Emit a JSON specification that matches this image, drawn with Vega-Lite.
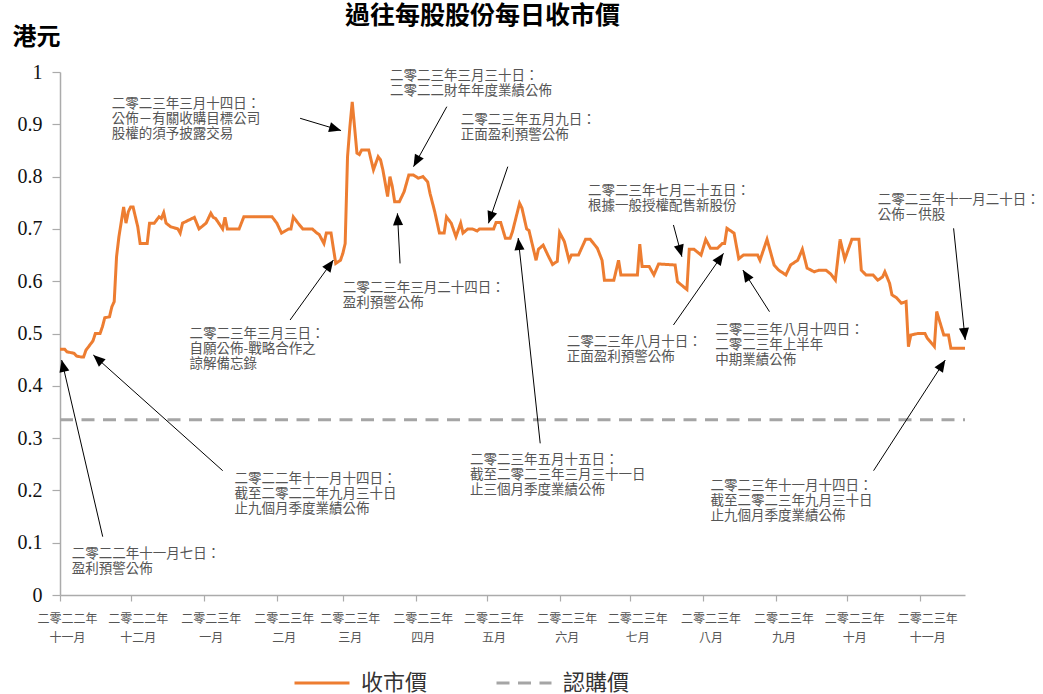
{
  "$schema": "https://vega.github.io/schema/vega-lite/v6.json",
  "autosize": {"type": "none"},
  "width": 905,
  "height": 523,
  "padding": {"left": 60, "top": 72, "right": 78, "bottom": 99},
  "background": "white",
  "config": {
    "view": {"stroke": null},
    "font": "Noto Sans CJK TC"
  },
  "title": {
    "text": "過往每股股份每日收市價",
    "font": "Noto Sans CJK TC",
    "fontSize": 25,
    "fontWeight": "bold",
    "color": "#000000",
    "anchor": "middle",
    "frame": "group",
    "dx": -30,
    "offset": -24,
    "baseline": "alphabetic"
  },
  "datasets": {
    "price": [
      {"d": "2022/11/01", "v": 0.47, "s": "收市價"},
      {"d": "2022/11/03", "v": 0.47, "s": "收市價"},
      {"d": "2022/11/04", "v": 0.465, "s": "收市價"},
      {"d": "2022/11/07", "v": 0.462, "s": "收市價"},
      {"d": "2022/11/08", "v": 0.457, "s": "收市價"},
      {"d": "2022/11/10", "v": 0.455, "s": "收市價"},
      {"d": "2022/11/11", "v": 0.455, "s": "收市價"},
      {"d": "2022/11/12", "v": 0.468, "s": "收市價"},
      {"d": "2022/11/14", "v": 0.48, "s": "收市價"},
      {"d": "2022/11/15", "v": 0.486, "s": "收市價"},
      {"d": "2022/11/16", "v": 0.5, "s": "收市價"},
      {"d": "2022/11/18", "v": 0.5, "s": "收市價"},
      {"d": "2022/11/19", "v": 0.513, "s": "收市價"},
      {"d": "2022/11/20", "v": 0.53, "s": "收市價"},
      {"d": "2022/11/22", "v": 0.532, "s": "收市價"},
      {"d": "2022/11/23", "v": 0.551, "s": "收市價"},
      {"d": "2022/11/24", "v": 0.561, "s": "收市價"},
      {"d": "2022/11/25", "v": 0.647, "s": "收市價"},
      {"d": "2022/11/26", "v": 0.685, "s": "收市價"},
      {"d": "2022/11/28", "v": 0.742, "s": "收市價"},
      {"d": "2022/11/29", "v": 0.711, "s": "收市價"},
      {"d": "2022/11/30", "v": 0.733, "s": "收市價"},
      {"d": "2022/12/01", "v": 0.742, "s": "收市價"},
      {"d": "2022/12/02", "v": 0.742, "s": "收市價"},
      {"d": "2022/12/04", "v": 0.704, "s": "收市價"},
      {"d": "2022/12/05", "v": 0.672, "s": "收市價"},
      {"d": "2022/12/08", "v": 0.672, "s": "收市價"},
      {"d": "2022/12/09", "v": 0.711, "s": "收市價"},
      {"d": "2022/12/11", "v": 0.711, "s": "收市價"},
      {"d": "2022/12/13", "v": 0.723, "s": "收市價"},
      {"d": "2022/12/14", "v": 0.72, "s": "收市價"},
      {"d": "2022/12/15", "v": 0.731, "s": "收市價"},
      {"d": "2022/12/16", "v": 0.711, "s": "收市價"},
      {"d": "2022/12/18", "v": 0.704, "s": "收市價"},
      {"d": "2022/12/21", "v": 0.7, "s": "收市價"},
      {"d": "2022/12/22", "v": 0.692, "s": "收市價"},
      {"d": "2022/12/23", "v": 0.711, "s": "收市價"},
      {"d": "2022/12/28", "v": 0.722, "s": "收市價"},
      {"d": "2022/12/30", "v": 0.7, "s": "收市價"},
      {"d": "2023/01/02", "v": 0.711, "s": "收市價"},
      {"d": "2023/01/04", "v": 0.73, "s": "收市價"},
      {"d": "2023/01/05", "v": 0.722, "s": "收市價"},
      {"d": "2023/01/06", "v": 0.72, "s": "收市價"},
      {"d": "2023/01/09", "v": 0.7, "s": "收市價"},
      {"d": "2023/01/10", "v": 0.722, "s": "收市價"},
      {"d": "2023/01/11", "v": 0.7, "s": "收市價"},
      {"d": "2023/01/16", "v": 0.7, "s": "收市價"},
      {"d": "2023/01/18", "v": 0.723, "s": "收市價"},
      {"d": "2023/01/30", "v": 0.723, "s": "收市價"},
      {"d": "2023/02/01", "v": 0.711, "s": "收市價"},
      {"d": "2023/02/03", "v": 0.692, "s": "收市價"},
      {"d": "2023/02/06", "v": 0.7, "s": "收市價"},
      {"d": "2023/02/07", "v": 0.7, "s": "收市價"},
      {"d": "2023/02/08", "v": 0.723, "s": "收市價"},
      {"d": "2023/02/10", "v": 0.711, "s": "收市價"},
      {"d": "2023/02/12", "v": 0.7, "s": "收市價"},
      {"d": "2023/02/16", "v": 0.7, "s": "收市價"},
      {"d": "2023/02/18", "v": 0.692, "s": "收市價"},
      {"d": "2023/02/19", "v": 0.689, "s": "收市價"},
      {"d": "2023/02/21", "v": 0.672, "s": "收市價"},
      {"d": "2023/02/22", "v": 0.692, "s": "收市價"},
      {"d": "2023/02/24", "v": 0.692, "s": "收市價"},
      {"d": "2023/02/26", "v": 0.634, "s": "收市價"},
      {"d": "2023/02/28", "v": 0.64, "s": "收市價"},
      {"d": "2023/03/01", "v": 0.653, "s": "收市價"},
      {"d": "2023/03/02", "v": 0.672, "s": "收市價"},
      {"d": "2023/03/03", "v": 0.838, "s": "收市價"},
      {"d": "2023/03/04", "v": 0.895, "s": "收市價"},
      {"d": "2023/03/05", "v": 0.943, "s": "收市價"},
      {"d": "2023/03/07", "v": 0.845, "s": "收市價"},
      {"d": "2023/03/08", "v": 0.842, "s": "收市價"},
      {"d": "2023/03/09", "v": 0.851, "s": "收市價"},
      {"d": "2023/03/12", "v": 0.851, "s": "收市價"},
      {"d": "2023/03/14", "v": 0.813, "s": "收市價"},
      {"d": "2023/03/16", "v": 0.838, "s": "收市價"},
      {"d": "2023/03/17", "v": 0.832, "s": "收市價"},
      {"d": "2023/03/18", "v": 0.813, "s": "收市價"},
      {"d": "2023/03/20", "v": 0.762, "s": "收市價"},
      {"d": "2023/03/21", "v": 0.8, "s": "收市價"},
      {"d": "2023/03/22", "v": 0.781, "s": "收市價"},
      {"d": "2023/03/23", "v": 0.752, "s": "收市價"},
      {"d": "2023/03/25", "v": 0.752, "s": "收市價"},
      {"d": "2023/03/27", "v": 0.771, "s": "收市價"},
      {"d": "2023/03/29", "v": 0.803, "s": "收市價"},
      {"d": "2023/03/31", "v": 0.803, "s": "收市價"},
      {"d": "2023/04/02", "v": 0.797, "s": "收市價"},
      {"d": "2023/04/04", "v": 0.8, "s": "收市價"},
      {"d": "2023/04/06", "v": 0.79, "s": "收市價"},
      {"d": "2023/04/07", "v": 0.768, "s": "收市價"},
      {"d": "2023/04/09", "v": 0.733, "s": "收市價"},
      {"d": "2023/04/11", "v": 0.692, "s": "收市價"},
      {"d": "2023/04/13", "v": 0.692, "s": "收市價"},
      {"d": "2023/04/14", "v": 0.723, "s": "收市價"},
      {"d": "2023/04/16", "v": 0.711, "s": "收市價"},
      {"d": "2023/04/18", "v": 0.685, "s": "收市價"},
      {"d": "2023/04/20", "v": 0.711, "s": "收市價"},
      {"d": "2023/04/21", "v": 0.692, "s": "收市價"},
      {"d": "2023/04/23", "v": 0.7, "s": "收市價"},
      {"d": "2023/04/25", "v": 0.7, "s": "收市價"},
      {"d": "2023/04/27", "v": 0.696, "s": "收市價"},
      {"d": "2023/04/28", "v": 0.7, "s": "收市價"},
      {"d": "2023/05/04", "v": 0.7, "s": "收市價"},
      {"d": "2023/05/05", "v": 0.712, "s": "收市價"},
      {"d": "2023/05/07", "v": 0.712, "s": "收市價"},
      {"d": "2023/05/09", "v": 0.682, "s": "收市價"},
      {"d": "2023/05/11", "v": 0.682, "s": "收市價"},
      {"d": "2023/05/12", "v": 0.695, "s": "收市價"},
      {"d": "2023/05/15", "v": 0.749, "s": "收市價"},
      {"d": "2023/05/16", "v": 0.74, "s": "收市價"},
      {"d": "2023/05/18", "v": 0.7, "s": "收市價"},
      {"d": "2023/05/19", "v": 0.697, "s": "收市價"},
      {"d": "2023/05/22", "v": 0.64, "s": "收市價"},
      {"d": "2023/05/23", "v": 0.661, "s": "收市價"},
      {"d": "2023/05/25", "v": 0.669, "s": "收市價"},
      {"d": "2023/05/27", "v": 0.65, "s": "收市價"},
      {"d": "2023/05/29", "v": 0.632, "s": "收市價"},
      {"d": "2023/05/31", "v": 0.638, "s": "收市價"},
      {"d": "2023/06/01", "v": 0.693, "s": "收市價"},
      {"d": "2023/06/03", "v": 0.676, "s": "收市價"},
      {"d": "2023/06/05", "v": 0.64, "s": "收市價"},
      {"d": "2023/06/06", "v": 0.65, "s": "收市價"},
      {"d": "2023/06/09", "v": 0.65, "s": "收市價"},
      {"d": "2023/06/12", "v": 0.68, "s": "收市價"},
      {"d": "2023/06/14", "v": 0.68, "s": "收市價"},
      {"d": "2023/06/17", "v": 0.663, "s": "收市價"},
      {"d": "2023/06/19", "v": 0.64, "s": "收市價"},
      {"d": "2023/06/20", "v": 0.602, "s": "收市價"},
      {"d": "2023/06/24", "v": 0.602, "s": "收市價"},
      {"d": "2023/06/26", "v": 0.64, "s": "收市價"},
      {"d": "2023/06/27", "v": 0.612, "s": "收市價"},
      {"d": "2023/07/04", "v": 0.612, "s": "收市價"},
      {"d": "2023/07/05", "v": 0.671, "s": "收市價"},
      {"d": "2023/07/06", "v": 0.628, "s": "收市價"},
      {"d": "2023/07/09", "v": 0.628, "s": "收市價"},
      {"d": "2023/07/11", "v": 0.612, "s": "收市價"},
      {"d": "2023/07/13", "v": 0.633, "s": "收市價"},
      {"d": "2023/07/20", "v": 0.631, "s": "收市價"},
      {"d": "2023/07/21", "v": 0.599, "s": "收市價"},
      {"d": "2023/07/25", "v": 0.584, "s": "收市價"},
      {"d": "2023/07/26", "v": 0.661, "s": "收市價"},
      {"d": "2023/07/28", "v": 0.661, "s": "收市價"},
      {"d": "2023/07/31", "v": 0.65, "s": "收市價"},
      {"d": "2023/08/02", "v": 0.68, "s": "收市價"},
      {"d": "2023/08/04", "v": 0.663, "s": "收市價"},
      {"d": "2023/08/07", "v": 0.663, "s": "收市價"},
      {"d": "2023/08/09", "v": 0.672, "s": "收市價"},
      {"d": "2023/08/10", "v": 0.672, "s": "收市價"},
      {"d": "2023/08/11", "v": 0.701, "s": "收市價"},
      {"d": "2023/08/13", "v": 0.695, "s": "收市價"},
      {"d": "2023/08/14", "v": 0.692, "s": "收市價"},
      {"d": "2023/08/16", "v": 0.643, "s": "收市價"},
      {"d": "2023/08/18", "v": 0.65, "s": "收市價"},
      {"d": "2023/08/24", "v": 0.65, "s": "收市價"},
      {"d": "2023/08/25", "v": 0.64, "s": "收市價"},
      {"d": "2023/08/28", "v": 0.68, "s": "收市價"},
      {"d": "2023/08/31", "v": 0.631, "s": "收市價"},
      {"d": "2023/09/02", "v": 0.621, "s": "收市價"},
      {"d": "2023/09/05", "v": 0.612, "s": "收市價"},
      {"d": "2023/09/07", "v": 0.631, "s": "收市價"},
      {"d": "2023/09/10", "v": 0.64, "s": "收市價"},
      {"d": "2023/09/12", "v": 0.661, "s": "收市價"},
      {"d": "2023/09/14", "v": 0.625, "s": "收市價"},
      {"d": "2023/09/17", "v": 0.618, "s": "收市價"},
      {"d": "2023/09/19", "v": 0.621, "s": "收市價"},
      {"d": "2023/09/22", "v": 0.621, "s": "收市價"},
      {"d": "2023/09/24", "v": 0.614, "s": "收市價"},
      {"d": "2023/09/26", "v": 0.602, "s": "收市價"},
      {"d": "2023/09/28", "v": 0.68, "s": "收市價"},
      {"d": "2023/09/30", "v": 0.642, "s": "收市價"},
      {"d": "2023/10/03", "v": 0.68, "s": "收市價"},
      {"d": "2023/10/06", "v": 0.68, "s": "收市價"},
      {"d": "2023/10/07", "v": 0.621, "s": "收市價"},
      {"d": "2023/10/09", "v": 0.612, "s": "收市價"},
      {"d": "2023/10/12", "v": 0.612, "s": "收市價"},
      {"d": "2023/10/14", "v": 0.602, "s": "收市價"},
      {"d": "2023/10/16", "v": 0.608, "s": "收市價"},
      {"d": "2023/10/17", "v": 0.618, "s": "收市價"},
      {"d": "2023/10/19", "v": 0.596, "s": "收市價"},
      {"d": "2023/10/20", "v": 0.574, "s": "收市價"},
      {"d": "2023/10/22", "v": 0.568, "s": "收市價"},
      {"d": "2023/10/24", "v": 0.558, "s": "收市價"},
      {"d": "2023/10/26", "v": 0.561, "s": "收市價"},
      {"d": "2023/10/27", "v": 0.475, "s": "收市價"},
      {"d": "2023/10/28", "v": 0.497, "s": "收市價"},
      {"d": "2023/10/31", "v": 0.5, "s": "收市價"},
      {"d": "2023/11/03", "v": 0.5, "s": "收市價"},
      {"d": "2023/11/04", "v": 0.491, "s": "收市價"},
      {"d": "2023/11/07", "v": 0.475, "s": "收市價"},
      {"d": "2023/11/08", "v": 0.542, "s": "收市價"},
      {"d": "2023/11/11", "v": 0.497, "s": "收市價"},
      {"d": "2023/11/13", "v": 0.497, "s": "收市價"},
      {"d": "2023/11/14", "v": 0.472, "s": "收市價"},
      {"d": "2023/11/20", "v": 0.472, "s": "收市價"},
      {"d": "2022/11/01", "v": 0.335, "s": "認購價"},
      {"d": "2023/11/20", "v": 0.335, "s": "認購價"}
    ],
    "arrows": [
      {"t": "2023/02/10 21:00", "tv": 0.9115, "h": "2023/02/28 06:00", "hv": 0.888},
      {"t": "2023/04/14 03:00", "tv": 0.9337, "h": "2023/03/31 00:00", "hv": 0.819},
      {"t": "2023/05/10 00:00", "tv": 0.819, "h": "2023/05/01 19:00", "hv": 0.7107},
      {"t": "2023/03/25 07:00", "tv": 0.634, "h": "2023/03/24 04:00", "hv": 0.7298},
      {"t": "2023/02/06 15:00", "tv": 0.5258, "h": "2023/02/25 00:00", "hv": 0.6405},
      {"t": "2023/05/23 18:00", "tv": 0.29, "h": "2023/05/14 10:00", "hv": 0.6826},
      {"t": "2023/07/19 07:00", "tv": 0.7075, "h": "2023/07/22 21:00", "hv": 0.6468},
      {"t": "2023/07/19 07:00", "tv": 0.5163, "h": "2023/08/09 13:00", "hv": 0.6533},
      {"t": "2023/08/29 01:00", "tv": 0.5417, "h": "2023/08/17 18:00", "hv": 0.6214},
      {"t": "2023/11/15 04:00", "tv": 0.7011, "h": "2023/11/20 02:00", "hv": 0.4876},
      {"t": "2023/10/12 05:00", "tv": 0.2377, "h": "2023/11/11 15:00", "hv": 0.4493},
      {"t": "2023/01/09 01:00", "tv": 0.2377, "h": "2022/11/15 03:00", "hv": 0.4589},
      {"t": "2022/11/19 03:00", "tv": 0.1115, "h": "2022/11/01 17:00", "hv": 0.4493}
    ],
    "notes": [
      {"d": "2022/11/23", "v": 0.953, "txt": ["二零二三年三月十四日：", "公佈－有關收購目標公司", "股權的須予披露交易"]},
      {"d": "2023/03/21", "v": 1.006, "txt": ["二零二三年三月三十日：", "二零二二財年年度業績公佈"]},
      {"d": "2023/04/20", "v": 0.922, "txt": ["二零二三年五月九日：", "正面盈利預警公佈"]},
      {"d": "2023/03/01", "v": 0.6, "txt": ["二零二三年三月二十四日：", "盈利預警公佈"]},
      {"d": "2022/12/26", "v": 0.512, "txt": ["二零二三年三月三日：", "自願公佈-戰略合作之", "諒解備忘錄"]},
      {"d": "2023/04/24", "v": 0.272, "txt": ["二零二三年五月十五日：", "截至二零二三年三月三十一日", "止三個月季度業績公佈"]},
      {"d": "2023/06/13", "v": 0.786, "txt": ["二零二三年七月二十五日：", "根據一般授權配售新股份"]},
      {"d": "2023/06/04", "v": 0.498, "txt": ["二零二三年八月十日：", "正面盈利預警公佈"]},
      {"d": "2023/08/06", "v": 0.52, "txt": ["二零二三年八月十四日：", "二零二三年上半年", "中期業績公佈"]},
      {"d": "2023/10/14", "v": 0.769, "txt": ["二零二三年十一月二十日：", "公佈－供股"]},
      {"d": "2023/08/04", "v": 0.222, "txt": ["二零二三年十一月十四日：", "截至二零二三年九月三十日", "止九個月季度業績公佈"]},
      {"d": "2023/01/14", "v": 0.236, "txt": ["二零二二年十一月十四日：", "截至二零二二年九月三十日", "止九個月季度業績公佈"]},
      {"d": "2022/11/06", "v": 0.092, "txt": ["二零二二年十一月七日：", "盈利預警公佈"]}
    ]
  },
  "layer": [
    {
      "data": {"name": "price"},
      "mark": {"type": "line", "strokeWidth": 3},
      "encoding": {
        "x": {
          "field": "d",
          "type": "temporal",
          "title": null,
          "scale": {"domain": [{"year": 2022, "month": 11, "date": 1}, {"year": 2023, "month": 11, "date": 20}]},
          "axis": {
            "values": [
              {"year": 2022, "month": 11, "date": 1},
              {"year": 2022, "month": 12, "date": 1},
              {"year": 2023, "month": 1, "date": 1},
              {"year": 2023, "month": 2, "date": 1},
              {"year": 2023, "month": 3, "date": 1},
              {"year": 2023, "month": 4, "date": 1},
              {"year": 2023, "month": 5, "date": 1},
              {"year": 2023, "month": 6, "date": 1},
              {"year": 2023, "month": 7, "date": 1},
              {"year": 2023, "month": 8, "date": 1},
              {"year": 2023, "month": 9, "date": 1},
              {"year": 2023, "month": 10, "date": 1},
              {"year": 2023, "month": 11, "date": 1}
            ],
            "labelExpr": "[year(datum.value) == 2022 ? '二零二二年' : '二零二三年', ['一月','二月','三月','四月','五月','六月','七月','八月','九月','十月','十一月','十二月'][month(datum.value)]]",
            "grid": false,
            "domainColor": "#ABABAB",
            "domainWidth": 1.5,
            "tickColor": "#ABABAB",
            "tickWidth": 1.2,
            "tickSize": 6,
            "labelFont": "Noto Sans CJK TC",
            "labelFontSize": 12,
            "labelColor": "#555555",
            "labelLineHeight": 19,
            "labelPadding": 12,
            "labelOffset": 7,
            "labelFlush": false,
            "labelOverlap": false,
            "labelBound": false
          }
        },
        "y": {
          "field": "v",
          "type": "quantitative",
          "title": "港元",
          "scale": {"domain": [0, 1], "nice": false},
          "axis": {
            "values": [0, 0.1, 0.2, 0.3, 0.4, 0.5, 0.6, 0.7, 0.8, 0.9, 1],
            "format": "~g",
            "grid": false,
            "domainColor": "#ABABAB",
            "domainWidth": 1.5,
            "tickColor": "#ABABAB",
            "tickWidth": 1.2,
            "tickSize": 8,
            "labelFont": "Liberation Serif",
            "labelFontSize": 20,
            "labelColor": "#111111",
            "labelPadding": 10,
            "titleAngle": 0,
            "titleAlign": "left",
            "titleBaseline": "alphabetic",
            "titleX": -48,
            "titleY": -28,
            "titleFont": "Noto Sans CJK TC",
            "titleFontSize": 24,
            "titleFontWeight": "bold",
            "titleColor": "#000000"
          }
        },
        "color": {
          "field": "s",
          "type": "nominal",
          "scale": {"domain": ["收市價", "認購價"], "range": ["#ED7D31", "#A5A5A5"]},
          "legend": {
            "title": null,
            "orient": "none",
            "legendX": 233,
            "legendY": 582,
            "direction": "horizontal",
            "symbolType": "stroke",
            "symbolSize": 3025,
            "symbolStrokeWidth": 3,
            "labelFont": "Noto Sans CJK TC",
            "labelFontSize": 22,
            "labelColor": "#333333",
            "labelOffset": 10,
            "columnPadding": 62,
            "padding": 0
          }
        },
        "strokeDash": {
          "field": "s",
          "type": "nominal",
          "scale": {"domain": ["收市價", "認購價"], "range": [[1, 0], [13, 8.5]]},
          "legend": null
        }
      }
    },
    {
      "data": {"name": "arrows"},
      "mark": {"type": "rule", "color": "#000000", "strokeWidth": 1},
      "encoding": {
        "x": {"field": "t", "type": "temporal"},
        "x2": {"field": "h"},
        "y": {"field": "tv", "type": "quantitative"},
        "y2": {"field": "hv"}
      }
    },
    {
      "data": {"name": "arrows"},
      "transform": [
        {"calculate": "atan2((time(datum.h) - time(datum.t)) / (384 * 86400000) * 905, (datum.hv - datum.tv) * 523) * 180 / PI", "as": "ang"}
      ],
      "mark": {"type": "point", "shape": "M0,0L-0.42,1L0.42,1Z", "filled": true, "color": "#000000", "opacity": 1, "size": 576, "strokeWidth": 0},
      "encoding": {
        "x": {"field": "h", "type": "temporal"},
        "y": {"field": "hv", "type": "quantitative"},
        "angle": {"field": "ang", "type": "quantitative", "scale": null}
      }
    },
    {
      "data": {"name": "notes"},
      "mark": {"type": "text", "align": "left", "baseline": "top", "font": "Noto Sans CJK TC", "fontSize": 13.5, "lineHeight": 15, "color": "#555555"},
      "encoding": {
        "x": {"field": "d", "type": "temporal"},
        "y": {"field": "v", "type": "quantitative"},
        "text": {"field": "txt", "type": "nominal"}
      }
    }
  ]
}
